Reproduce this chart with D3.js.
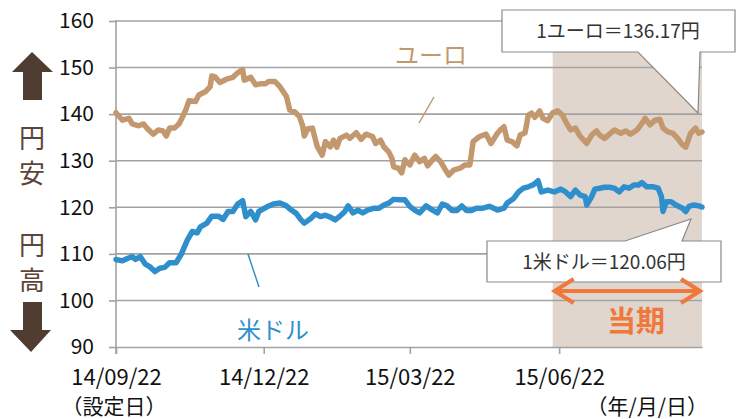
<!DOCTYPE html>
<html>
<head>
<meta charset="utf-8">
<script src="https://cdn.jsdelivr.net/npm/d3@7"></script>
<style>
  body { margin: 0; background: #fff; }
  svg { display: block; font-family: "Noto Sans CJK JP", "Noto Sans", sans-serif; }
</style>
</head>
<body>
<div id="chart"></div>
<script>
// ----- Data -----
// day offsets are counted from the launch date 2014/09/22
const startDay = "2014-09-22";
const endDay = "2015-09-18";
const periodStartDay = "2015-06-18";
const xTickDays = ["2014-09-22", "2014-12-22", "2015-03-22", "2015-06-22"];
const yTicks = [90, 100, 110, 120, 130, 140, 150, 160];

const eurDays = [0, 4, 8, 10, 14, 17, 19, 23, 26, 29, 31, 33, 36, 39, 43, 45, 49, 51, 55, 58,
  59, 61, 64, 68, 72, 75, 78, 79, 83, 86, 89, 92, 94, 98, 101, 105, 107, 110, 113, 115,
  116, 118, 121, 124, 127, 129, 132, 134, 136, 138, 142, 144, 148, 151, 154, 158, 160, 163, 165, 168,
  170, 171, 174, 176, 178, 181, 184, 187, 190, 192, 195, 197, 200, 203, 205, 208, 212, 215, 218, 220,
  224, 228, 231, 235, 237, 239, 241, 244, 247, 249, 252, 254, 256, 258, 261, 263, 266, 269, 272, 275,
  277, 280, 283, 286, 290, 293, 296, 298, 301, 304, 307, 311, 314, 317, 321, 324, 326, 329, 332, 335,
  337, 340, 343, 346, 349, 351, 354, 357, 359, 361];
const eurRate = [140.3, 138.7, 139.1, 137.9, 137.5, 137.9, 137.0, 135.7, 136.6, 136.4, 135.3, 137.0, 137.0, 138.0, 140.9, 142.9, 142.7, 144.1, 144.8, 145.9,
  148.2, 148.0, 146.8, 147.5, 147.9, 148.9, 149.6, 147.3, 147.9, 146.3, 146.5, 146.5, 147.0, 147.0, 145.9, 143.8, 140.9, 140.5, 139.5, 137.5,
  135.3, 136.8, 137.0, 133.0, 131.2, 134.1, 133.0, 134.4, 132.9, 134.8, 135.5, 134.8, 136.0, 134.6, 135.7, 135.2, 133.7, 134.4, 133.0, 131.9,
  130.5, 128.7, 128.4, 127.4, 130.2, 129.1, 131.2, 129.8, 130.5, 128.9, 130.2, 130.9, 129.8, 128.0, 126.9, 128.0, 128.4, 129.1, 129.1, 134.1,
  135.2, 135.7, 133.7, 135.9, 136.7, 137.3, 134.4, 134.1, 133.2, 135.5, 136.0, 139.8, 140.2, 139.3, 140.7, 139.1, 138.6, 140.3, 140.7, 139.8,
  138.4, 136.6, 137.0, 135.2, 133.7, 135.5, 136.4, 135.5, 134.8, 135.7, 136.6, 135.9, 136.4, 135.7, 136.6, 138.0, 139.1, 137.7, 138.7, 138.9,
  137.0, 136.2, 135.9, 134.8, 133.4, 132.9, 135.9, 137.0, 135.9, 136.17];

const usdDays = [0, 4, 7, 10, 12, 15, 18, 21, 24, 27, 30, 33, 37, 40, 44, 47, 50, 52, 56, 59,
  63, 66, 69, 72, 75, 78, 80, 83, 86, 88, 93, 97, 101, 105, 108, 111, 114, 116, 120, 123,
  126, 129, 132, 135, 138, 141, 143, 146, 149, 152, 155, 159, 162, 165, 168, 171, 175, 178, 181, 184,
  187, 191, 195, 198, 201, 204, 207, 210, 213, 216, 219, 222, 226, 230, 235, 239, 241, 245, 248, 251,
  254, 257, 260, 262, 266, 270, 274, 277, 280, 283, 286, 289, 290, 293, 295, 298, 301, 304, 307, 310,
  313, 316, 319, 322, 324, 327, 331, 334, 336, 337, 339, 342, 345, 349, 351, 353, 356, 359, 361];
const usdRate = [108.8, 108.5, 109.0, 109.4, 108.8, 109.4, 107.8, 107.2, 106.2, 106.9, 107.1, 108.1, 108.1, 109.8, 113.0, 114.8, 114.5, 115.8, 116.6, 118.1,
  118.1, 117.4, 119.1, 119.1, 120.7, 121.4, 118.0, 119.1, 117.3, 119.1, 120.1, 120.7, 120.9, 120.3, 119.4, 118.7, 117.3, 116.6, 117.6, 118.6,
  118.0, 118.3, 117.9, 117.3, 118.1, 119.1, 120.3, 118.8, 119.4, 118.8, 119.4, 119.8, 119.8, 120.5, 120.9, 121.7, 121.6, 121.6, 120.2, 119.4,
  118.8, 120.3, 119.4, 118.8, 120.7, 120.3, 119.3, 119.3, 120.3, 119.3, 119.3, 119.8, 119.8, 120.2, 119.4, 119.8, 120.9, 121.9, 123.3, 124.1,
  124.4, 124.8, 125.7, 123.3, 123.7, 123.3, 123.9, 123.3, 122.3, 123.7, 122.6, 122.3, 120.5, 122.3, 123.9, 124.1, 124.3, 124.3, 124.1, 123.3,
  124.4, 124.1, 124.8, 124.8, 125.3, 124.4, 124.4, 124.1, 122.3, 119.1, 121.2, 121.2, 120.5, 119.8, 119.1, 120.2, 120.5, 120.3, 120.06];

// ----- Constants -----
const W = 744, H = 419;
const Left = 116, Right = 702, Top = 21, Bottom = 347;
const EurColor = "#c3986f";
const UsdColor = "#2f8fcd";
const GridColor = "#a2a2a2";
const BrownDark = "#4f3d32";
const Orange = "#f0783a";

const parseDay = d3.timeParse("%Y-%m-%d");
const start = parseDay(startDay);

function main() {
    const svg = d3.select("#chart").append("svg")
        .attr("width", W)
        .attr("height", H);

    // scales
    const x = d3.scaleTime()
        .domain([start, parseDay(endDay)])
        .range([Left, Right]);
    const y = d3.scaleLinear()
        .domain([90, 160])
        .range([Bottom, Top]);

    // current period shading
    svg.append("rect")
        .attr("x", x(parseDay(periodStartDay)))
        .attr("y", y(160))
        .attr("width", x(parseDay(endDay)) - x(parseDay(periodStartDay)))
        .attr("height", y(90) - y(160))
        .attr("fill", "#e0d6cd");

    // gridlines
    svg.append("g").selectAll("line")
        .data(yTicks.filter(v => v > 90))
        .enter()
        .append("line")
            .attr("x1", Left).attr("x2", Right)
            .attr("y1", d => y(d)).attr("y2", d => y(d))
            .attr("stroke", GridColor)
            .attr("stroke-width", 1.6);

    // axes
    const axisLeft = d3.axisLeft(y)
        .tickValues(yTicks)
        .tickSize(7)
        .tickSizeOuter(0)
        .tickPadding(15);
    const gy = svg.append("g")
        .attr("transform", `translate(${Left},0)`)
        .call(axisLeft);

    const axisBottom = d3.axisBottom(x)
        .tickValues(xTickDays.map(parseDay))
        .tickSize(7)
        .tickSizeOuter(0)
        .tickPadding(15)
        .tickFormat(d3.timeFormat("%y/%m/%d"));
    const gx = svg.append("g")
        .attr("transform", `translate(0,${Bottom})`)
        .call(axisBottom);

    [gx, gy].forEach(g => {
        g.selectAll("path, line").attr("stroke", GridColor).attr("stroke-width", 1.6);
        g.selectAll("text")
            .attr("fill", "#111")
            .style("font-family", "'Noto Sans CJK JP', sans-serif");
    });
    gy.selectAll("text").style("font-size", "21px");
    gx.selectAll("text").style("font-size", "22px");
    gy.select(".domain").attr("d", `M0,${Top - 1}V${Bottom + 7}`);

    // series
    const line = d3.line()
        .x(d => x(d3.timeDay.offset(start, d[0])))
        .y(d => y(d[1]));

    svg.append("path")
        .datum(d3.zip(eurDays, eurRate))
        .attr("d", line)
        .attr("fill", "none")
        .attr("stroke", EurColor)
        .attr("stroke-width", 5.5)
        .attr("stroke-linejoin", "round")
        .attr("stroke-linecap", "round");

    svg.append("path")
        .datum(d3.zip(usdDays, usdRate))
        .attr("d", line)
        .attr("fill", "none")
        .attr("stroke", UsdColor)
        .attr("stroke-width", 5.5)
        .attr("stroke-linejoin", "round")
        .attr("stroke-linecap", "round");

    // series labels with pointer lines
    svg.append("text")
        .attr("x", 431).attr("y", 64)
        .attr("text-anchor", "middle")
        .attr("fill", EurColor)
        .style("font-size", "24px")
        .text("ユーロ");
    svg.append("line")
        .attr("x1", 434).attr("y1", 97).attr("x2", 419).attr("y2", 123)
        .attr("stroke", EurColor).attr("stroke-width", 1.5);

    svg.append("text")
        .attr("x", 273).attr("y", 339)
        .attr("text-anchor", "middle")
        .attr("fill", UsdColor)
        .style("font-size", "24px")
        .text("米ドル");
    svg.append("line")
        .attr("x1", 248).attr("y1", 254).attr("x2", 259).attr("y2", 287)
        .attr("stroke", UsdColor).attr("stroke-width", 1.5);

    // callouts
    const callout = (pathD, tx, ty, label) => {
        svg.append("path")
            .attr("d", pathD)
            .attr("fill", "#fff")
            .attr("stroke", "#8a8a8a")
            .attr("stroke-width", 1.2);
        svg.append("text")
            .attr("x", tx).attr("y", ty)
            .attr("text-anchor", "middle")
            .attr("fill", "#333")
            .style("font-size", "19px")
            .text(label);
    };
    callout("M502,10H735V52H700L698,113L638,52H502Z", 618, 38, "1ユーロ＝136.17円");
    callout("M487,241H625L691,219L682,241H721V282H487Z", 604, 269, "1米ドル＝120.06円");

    // current period arrow
    const ax1 = x(parseDay(periodStartDay)) + 2, ax2 = Right - 2, ay = 291;
    svg.append("path")
        .attr("d", `M${ax1},${ay}H${ax2}M${ax1 + 19},${ay - 12}L${ax1},${ay}L${ax1 + 19},${ay + 12}M${ax2 - 19},${ay - 12}L${ax2},${ay}L${ax2 - 19},${ay + 12}`)
        .attr("fill", "none")
        .attr("stroke", Orange)
        .attr("stroke-width", 4);
    svg.append("text")
        .attr("x", 636).attr("y", 332)
        .attr("text-anchor", "middle")
        .attr("fill", Orange)
        .style("font-size", "29px")
        .style("font-weight", "bold")
        .text("当期");

    // yen strength indicators on the left
    svg.append("path")
        .attr("d", "M32,52L53,72H42V100H23V72H12Z")
        .attr("fill", BrownDark);
    svg.append("path")
        .attr("d", "M23,302H42V330H51L31,352L10,330H23Z")
        .attr("fill", BrownDark);
    [["円", 148], ["安", 183], ["円", 255], ["高", 290]].forEach(([ch, yy]) => {
        svg.append("text")
            .attr("x", 32).attr("y", yy)
            .attr("text-anchor", "middle")
            .attr("fill", "#5a4638")
            .style("font-size", "26px")
            .text(ch);
    });

    // axis notes
    svg.append("text")
        .attr("x", 114).attr("y", 414)
        .attr("text-anchor", "middle")
        .attr("fill", "#111")
        .style("font-size", "21px")
        .text("（設定日）");
    svg.append("text")
        .attr("x", 708).attr("y", 414)
        .attr("text-anchor", "end")
        .attr("fill", "#111")
        .style("font-size", "21px")
        .text("（年/月/日）");
}

main();
</script>
</body>
</html>
